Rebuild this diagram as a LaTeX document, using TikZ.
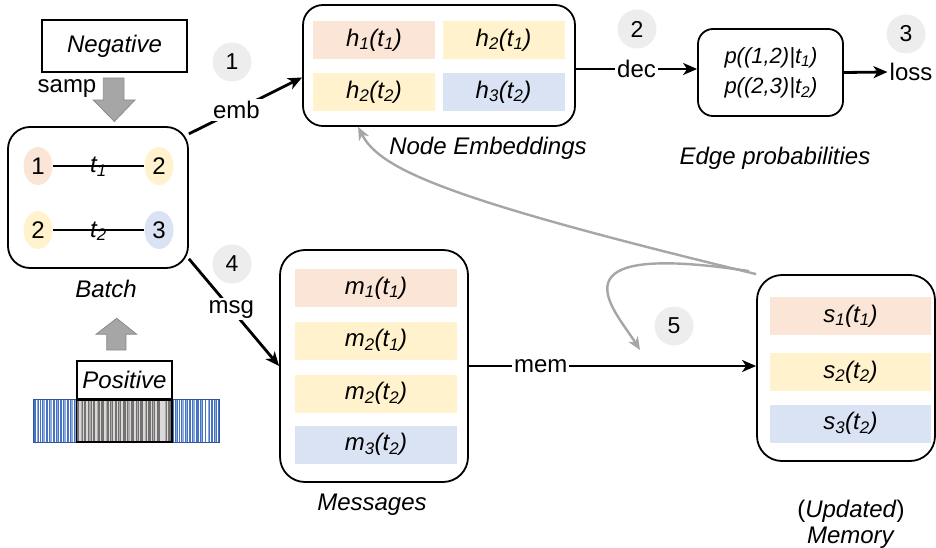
\documentclass[tikz,border=0pt]{standalone}
\usepackage{fontspec}
\setmainfont{Liberation Sans}
\usetikzlibrary{arrows.meta,shapes.geometric}
\definecolor{cpeach}{HTML}{FBE5D6}
\definecolor{cyel}{HTML}{FFF2CC}
\definecolor{cblue}{HTML}{DAE3F3}
\definecolor{ccirc}{HTML}{EDEDED}
\definecolor{cgarr}{HTML}{A6A6A6}
\definecolor{cgarrd}{HTML}{8C8C8C}
\definecolor{cbar}{HTML}{4472C4}
\definecolor{cbarl}{HTML}{8FAADC}
\definecolor{cbarb}{HTML}{2F5597}
\definecolor{cgbar}{HTML}{767171}
\definecolor{cgbarl}{HTML}{D9D9D9}
\newcommand\fsz[2]{\fontsize{#1}{#2}\selectfont}
\newcommand\sbs[1]{\textsubscript{#1}}
\begin{document}
\begin{tikzpicture}[x=1pt,y=-1pt,
  bigbox/.style={draw,line width=1.8pt,rounded corners=22pt,inner sep=0pt},
  cell/.style={minimum height=38pt,inner sep=0pt,font=\fsz{24}{29}\itshape},
  lbl/.style={font=\fsz{24}{29},inner sep=2pt},
  ilbl/.style={font=\fsz{24}{29}\itshape,inner sep=2pt},
  num/.style={circle,fill=ccirc,minimum size=39pt,inner sep=0pt,font=\fsz{23}{26}},
  ell/.style={ellipse,minimum width=29pt,minimum height=38pt,inner sep=0pt,font=\fsz{24}{29}},
  tlbl/.style={font=\fsz{24}{29}\itshape,inner sep=0pt,anchor=base,yshift=-7pt},
  arr/.style={line width=2.8pt,-{Stealth[length=14pt,width=12pt,inset=4pt]}},
  garr/.style={draw=cgarr,line width=2.4pt,-{Stealth[length=13pt,width=11pt,inset=4pt]}},
  blockarr/.style={fill=cgarr,draw=cgarrd,line width=0.8pt},
]
\useasboundingbox (0,0) rectangle (936,548);

% Negative box and arrow
\node[draw,line width=1.5pt,minimum width=145pt,minimum height=52pt,inner sep=0pt,font=\fsz{24}{29}\itshape] (neg) at (114.5,46) {Negative};
\node[lbl] (samp) at (67,89) {samp};
\draw[blockarr] (103.3,78) -- (124,78) -- (124,100) -- (135,100) -- (114.3,121.5) -- (93.3,100) -- (103.3,100) -- cycle;

% Batch
\node[bigbox,minimum width=180pt,minimum height=141pt] (batch) at (98,197.5) {};
\node[ell,fill=cpeach] (b1) at (38,166) {1};
\node[ell,fill=cyel] (b2) at (159,166) {2};
\node[ell,fill=cyel] (b3) at (38,230) {2};
\node[ell,fill=cblue] (b4) at (159,230) {3};
\draw[line width=1.5pt] (b1) -- node[tlbl] {t\sbs{1}} (b2);
\draw[line width=1.5pt] (b3) -- node[tlbl] {t\sbs{2}} (b4);
\node[ilbl] (batchlbl) at (106,289) {Batch};

% Positive + barcode
\draw[blockarr] (116.7,318.3) -- (136.7,334.3) -- (126,334.3) -- (126,350) -- (106.7,350) -- (106.7,334.3) -- (96,334.3) -- cycle;
\fill[cbar] (33,399) rectangle (77,442);
\foreach \x/\w in {37/1,43/1.5,50/1.5,57/1,64/1.5,71/1.5,75/1} \fill[cbarl] (\x,399) rectangle ++(\w,43);
\foreach \x/\w in {35.5/0.8,38.5/0.6,41/1.2,44.8/0.7,47.5/0.6,52/1.0,55/0.6,58.5/0.8,62/1.2,66/0.6,69/0.8,73/0.6} \fill[white] (\x,399) rectangle ++(\w,43);
\draw[cbarb,line width=0.8pt] (33,399) rectangle (77,442);
\fill[cbar] (172,399) rectangle (219,442);
\foreach \x/\w in {176/1,182/1.5,186/1,193/1.5,201/1,208/1,215/1} \fill[cbarl] (\x,399) rectangle ++(\w,43);
\foreach \x/\w in {174/0.6,177.5/1,180/0.6,184/0.8,188/1,191/0.6,195/1,199/0.8,203/1.5,205.5/2.5,210/1,213/0.8,216.5/1} \fill[white] (\x,399) rectangle ++(\w,43);
\draw[cbarb,line width=0.8pt] (172,399) rectangle (219,442);
\fill[cgbar] (77,399) rectangle (172,442);
\foreach \x/\w in {79/1.5,83/1,86/2,92/1,95/1.5,100/1,104/2,109/1,113/1.5,117/1,121/2,126/1,130/1,134/1.5,139/1,143/1.5,147/1,151/1,155/2,160/5,167/1} \fill[cgbarl] (\x,399) rectangle ++(\w,43);
\foreach \x/\w in {81/1,89/1.5,97/1,106/1,111/1,119/1,128/1.5,137/1,145/1,153/1,165/1} \fill[cgbar!60] (\x,399) rectangle ++(\w,43);
\node[draw,line width=1.5pt,minimum width=95pt,minimum height=38pt,inner sep=0pt,font=\fsz{24}{29}\itshape,fill=white] (pos) at (124.5,380) {Positive};
\draw[line width=1.5pt] (pos.south west) rectangle (172,442);

% Node embeddings
\node[bigbox,rounded corners=20pt,minimum width=272pt,minimum height=121pt] (nemb) at (439,65.5) {};
\node[cell,fill=cpeach,minimum width=122pt] (h11) at (374,40) {h\sbs{1}(t\sbs{1})};
\node[cell,fill=cyel,minimum width=122pt] (h21) at (503.5,40) {h\sbs{2}(t\sbs{1})};
\node[cell,fill=cyel,minimum width=122pt] (h22) at (374,92) {h\sbs{2}(t\sbs{2})};
\node[cell,fill=cblue,minimum width=122pt] (h32) at (503.5,92) {h\sbs{3}(t\sbs{2})};
\node[ilbl] (nemblbl) at (488,148) {Node Embeddings};

% Edge probabilities
\node[bigbox,rounded corners=15pt,minimum width=145pt,minimum height=87pt] (edge) at (770.5,72.5) {};
\node[font=\fsz{22}{30}\itshape,align=center,inner sep=0pt] (edgetxt) at (771,73) {p((1,2)|t\sbs{1})\\p((2,3)|t\sbs{2})};
\node[ilbl] (edgelbl) at (775,158) {Edge probabilities};
\node[lbl] (loss) at (911,72) {loss};

% Messages
\node[bigbox,rounded corners=25pt,minimum width=188pt,minimum height=232pt] (msgs) at (374,366) {};
\node[cell,fill=cpeach,minimum width=162pt] (m1) at (376,288) {m\sbs{1}(t\sbs{1})};
\node[cell,fill=cyel,minimum width=162pt] (m2) at (376,340.5) {m\sbs{2}(t\sbs{1})};
\node[cell,fill=cyel,minimum width=162pt] (m3) at (376,393.5) {m\sbs{2}(t\sbs{2})};
\node[cell,fill=cblue,minimum width=162pt] (m4) at (376,444.5) {m\sbs{3}(t\sbs{2})};
\node[ilbl] (msgslbl) at (372,505) {Messages};

% Memory
\node[bigbox,rounded corners=25pt,minimum width=178pt,minimum height=186pt] (mem) at (846,368) {};
\node[cell,fill=cpeach,minimum width=161pt] (s1) at (850.5,316) {s\sbs{1}(t\sbs{1})};
\node[cell,fill=cyel,minimum width=161pt] (s2) at (850.5,372) {s\sbs{2}(t\sbs{2})};
\node[cell,fill=cblue,minimum width=161pt] (s3) at (850.5,423.5) {s\sbs{3}(t\sbs{2})};
\node[font=\fsz{24}{26},align=center,inner sep=0pt] (memlbl) at (851,524) {(\textit{Updated})\\\textit{Memory}};

% Step numbers
\node[num] (n1) at (232,62) {1};
\node[num] (n2) at (637,29) {2};
\node[num] (n3) at (906,34) {3};
\node[num] (n4) at (232,264) {4};
\node[num] (n5) at (674,326) {5};

% Connectors
\coordinate (decy) at (0,69);
\draw[arr] (batch.35) -- node[lbl,fill=white,pos=0.42] {emb} (nemb.185);
\draw[arr] (nemb.east |- decy) -- node[lbl,fill=white] {dec} (edge.west |- decy);
\draw[arr] (edge.east) -- (loss.west);
\draw[arr] (batch.-34) -- node[lbl,fill=white,pos=0.47] {msg} (msgs.west);
\draw[arr] (msgs.east) -- node[lbl,fill=white,pos=0.25] {mem} (mem.west |- msgs.east);
\coordinate (c5) at (640,350);
\draw[garr] (mem.north west) .. controls (450,200) and (380,170) .. ([xshift=56pt]nemb.south west);
\draw[garr] ([xshift=-7pt,yshift=3pt]mem.north west) .. controls (545,240) and (615,310) .. (c5);
\end{tikzpicture}
\end{document}
